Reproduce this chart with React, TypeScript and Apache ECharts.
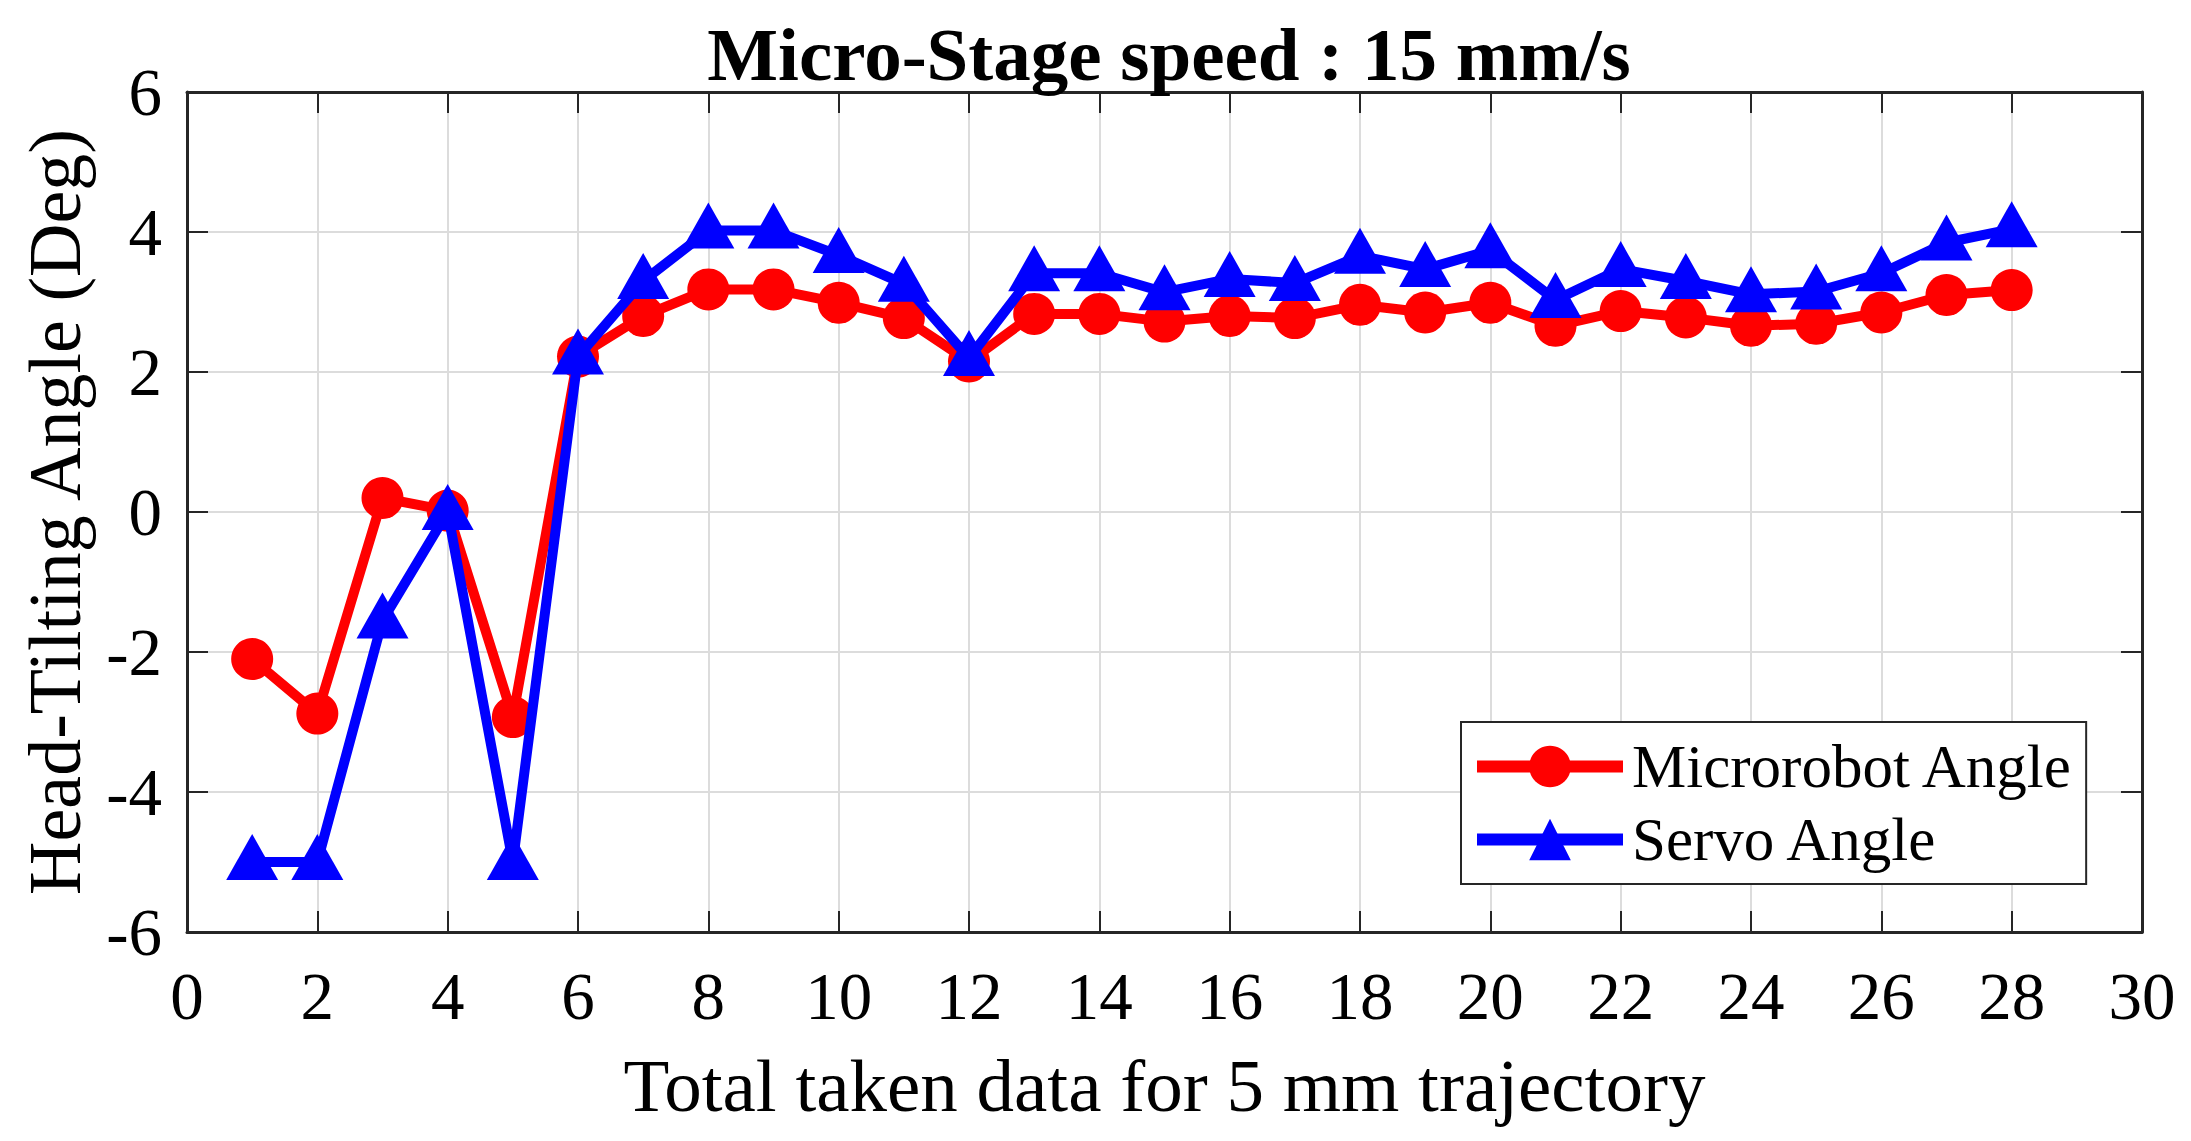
import React, { useEffect, useRef } from "react";
import * as echarts from "echarts";

const sampleIndex = [1, 2, 3, 4, 5, 6, 7, 8, 9, 10, 11, 12, 13, 14, 15, 16, 17, 18, 19, 20, 21, 22, 23, 24, 25, 26, 27, 28];
const microrobotAngle = [-2.1, -2.88, 0.2, 0.02, -2.93, 2.22, 2.8, 3.18, 3.18, 2.99, 2.77, 2.15, 2.83, 2.83, 2.72, 2.8, 2.77, 2.96, 2.85, 2.99, 2.66, 2.87, 2.78, 2.66, 2.69, 2.85, 3.1, 3.17];
const servoAngle = [-5.0, -5.0, -1.55, 0.0, -5.0, 2.22, 3.3, 4.02, 4.02, 3.67, 3.26, 2.2, 3.41, 3.41, 3.14, 3.33, 3.27, 3.66, 3.47, 3.74, 3.03, 3.47, 3.3, 3.11, 3.15, 3.41, 3.85, 4.04];
const seriesNames = ["Microrobot Angle", "Servo Angle"];
const titleText = "Micro-Stage speed : 15 mm/s";
const xAxisName = "Total taken data for 5 mm trajectory";
const yAxisName = "Head-Tilting Angle (Deg)";

const FONT = '"Liberation Serif", "Times New Roman", Times, serif';
const AXIS_COLOR = "#262626";

export default function App() {
  const ref = useRef<HTMLDivElement>(null);
  useEffect(() => {
    if (!ref.current) return;
    const chart = echarts.init(ref.current, null, { renderer: "svg" });
    const boxAxis = {
      axisLine: { show: true, onZero: false, lineStyle: { color: AXIS_COLOR, width: 3 } },
      axisTick: { show: true, inside: true, length: 21, lineStyle: { color: AXIS_COLOR, width: 2 } },
    };
    chart.setOption({
      animation: false,
      backgroundColor: "#ffffff",
      title: {
        text: titleText,
        left: 1164,
        top: 12,
        textAlign: "center",
        textStyle: { fontFamily: FONT, fontWeight: "bold", fontSize: 75, color: "#000" },
      },
      grid: { left: 187, top: 92, right: 49, bottom: 209, containLabel: false },
      xAxis: [
        {
          type: "value",
          position: "bottom",
          min: 0,
          max: 30,
          interval: 2,
          ...boxAxis,
          axisLabel: { fontFamily: FONT, fontSize: 67, color: "#000", margin: 30 },
          splitLine: { show: true, lineStyle: { color: "#dcdcdc", width: 2 } },
          name: xAxisName,
          nameLocation: "middle",
          nameGap: 116,
          nameTextStyle: { fontFamily: FONT, fontSize: 75, color: "#000" },
        },
        {
          type: "value",
          position: "top",
          min: 0,
          max: 30,
          interval: 2,
          ...boxAxis,
          axisLabel: { show: false },
          splitLine: { show: false },
        },
      ],
      yAxis: [
        {
          type: "value",
          position: "left",
          min: -6,
          max: 6,
          interval: 2,
          ...boxAxis,
          axisLabel: { fontFamily: FONT, fontSize: 67, color: "#000", margin: 25 },
          splitLine: { show: true, lineStyle: { color: "#dcdcdc", width: 2 } },
          name: yAxisName,
          nameLocation: "middle",
          nameGap: 95,
          nameTextStyle: { fontFamily: FONT, fontSize: 74, color: "#000" },
        },
        {
          type: "value",
          position: "right",
          min: -6,
          max: 6,
          interval: 2,
          ...boxAxis,
          axisLabel: { show: false },
          splitLine: { show: false },
        },
      ],
      legend: {
        orient: "vertical",
        left: 1461,
        top: 722,
        padding: [14, 12, 14, 10],
        itemGap: 12,
        itemWidth: 146,
        itemHeight: 52,
        borderColor: AXIS_COLOR,
        borderWidth: 2,
        backgroundColor: "#ffffff",
        lineStyle: { width: 12 },
        textStyle: { fontFamily: FONT, fontSize: 61, color: "#000", padding: [0, 0, 0, 4] },
        data: seriesNames,
      },
      series: [
        {
          name: seriesNames[0],
          type: "line",
          data: sampleIndex.map((x, i) => [x, microrobotAngle[i]]),
          symbol: "circle",
          symbolSize: 42,
          lineStyle: { color: "#ff0000", width: 10 },
          itemStyle: { color: "#ff0000" },
          z: 2,
        },
        {
          name: seriesNames[1],
          type: "line",
          data: sampleIndex.map((x, i) => [x, servoAngle[i]]),
          symbol: "triangle",
          symbolSize: [52, 46],
          symbolOffset: [0, -5],
          lineStyle: { color: "#0000ff", width: 10 },
          itemStyle: { color: "#0000ff" },
          z: 3,
        },
      ],
    });
    return () => chart.dispose();
  }, []);
  return (
    <div
      ref={ref}
      style={{ position: "fixed", left: 0, top: 0, width: 2191, height: 1141, background: "#fff" }}
    />
  );
}
